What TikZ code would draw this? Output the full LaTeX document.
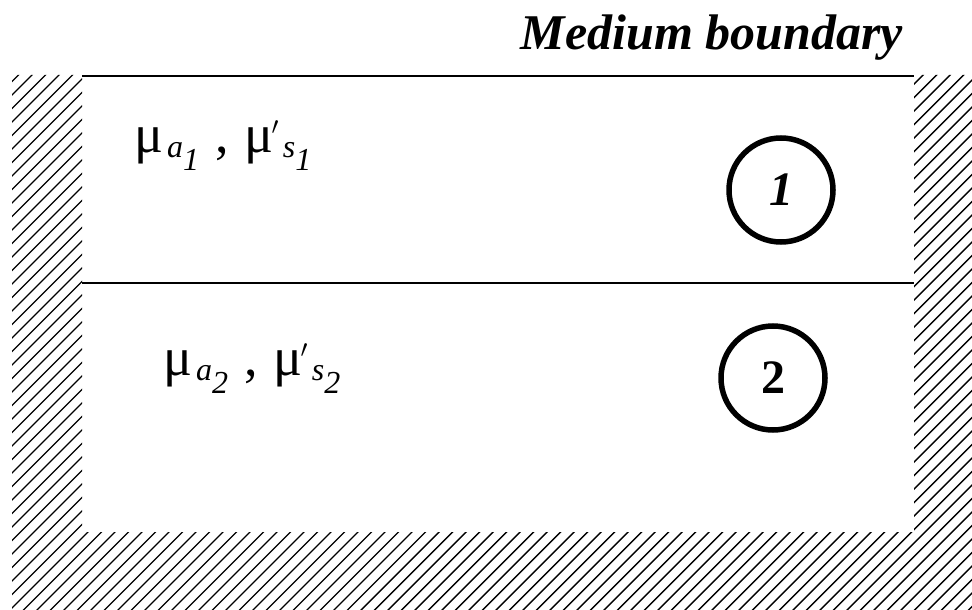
\documentclass[tikz,border=0pt]{standalone}
\usepackage{fontspec}
\setmainfont{Liberation Serif}
\newcommand{\subfont}{\fontsize{32}{32}\selectfont\itshape}
\newcommand{\coef}[3]{μ#1\hspace{4pt}\raisebox{-5pt}{\subfont #2}\raisebox{-18pt}{\subfont #3}}
\begin{document}
\begin{tikzpicture}[x=1pt, y=-1pt]
	\useasboundingbox (0,0) rectangle (972,610);
	% Hatched walls of the medium:
	\begin{scope}
		\clip (12,75) -- (82,75) -- (82,532) -- (914,532) -- (914,75) -- (972,75) -- (972,610) -- (12,610) -- cycle;
		\foreach \c in {80,93.5,...,1600} \draw[line width=1.4pt] (\c,0) -- ({\c-700},700);
	\end{scope}
	% Layer lines:
	\draw[line width=2pt] (82,76) coordinate (topL) -- (914,76) coordinate (topR);
	\draw[line width=2pt] (82,283) coordinate (midL) -- (914,283) coordinate (midR);
	% Labels and layers:
	\node[anchor=base east, inner sep=0pt, font=\fontsize{50}{54}\selectfont\bfseries\itshape] (bound) at (903,50){Medium boundary};
	\node[anchor=base west, inner sep=0pt, font=\fontsize{54}{58}\selectfont] (prop1) at (134,152){\coef{}{a}{1}\hspace{16pt},\hspace{16pt}\coef{\hspace{-2pt}\raisebox{8pt}{$'$}}{s}{1}};
	\node[anchor=base west, inner sep=0pt, font=\fontsize{54}{58}\selectfont] (prop2) at (163,375){\coef{}{a}{2}\hspace{16pt},\hspace{16pt}\coef{\hspace{-2pt}\raisebox{8pt}{$'$}}{s}{2}};
	\node[shape=circle, draw, line width=5.5pt, minimum size=104pt, inner sep=0pt, font=\fontsize{48}{52}\selectfont\bfseries\itshape] (layer1) at (781,190){1};
	\node[shape=circle, draw, line width=5.5pt, minimum size=104pt, inner sep=0pt, font=\fontsize{48}{52}\selectfont\bfseries] (layer2) at (773,378){2};
\end{tikzpicture}
\end{document}
